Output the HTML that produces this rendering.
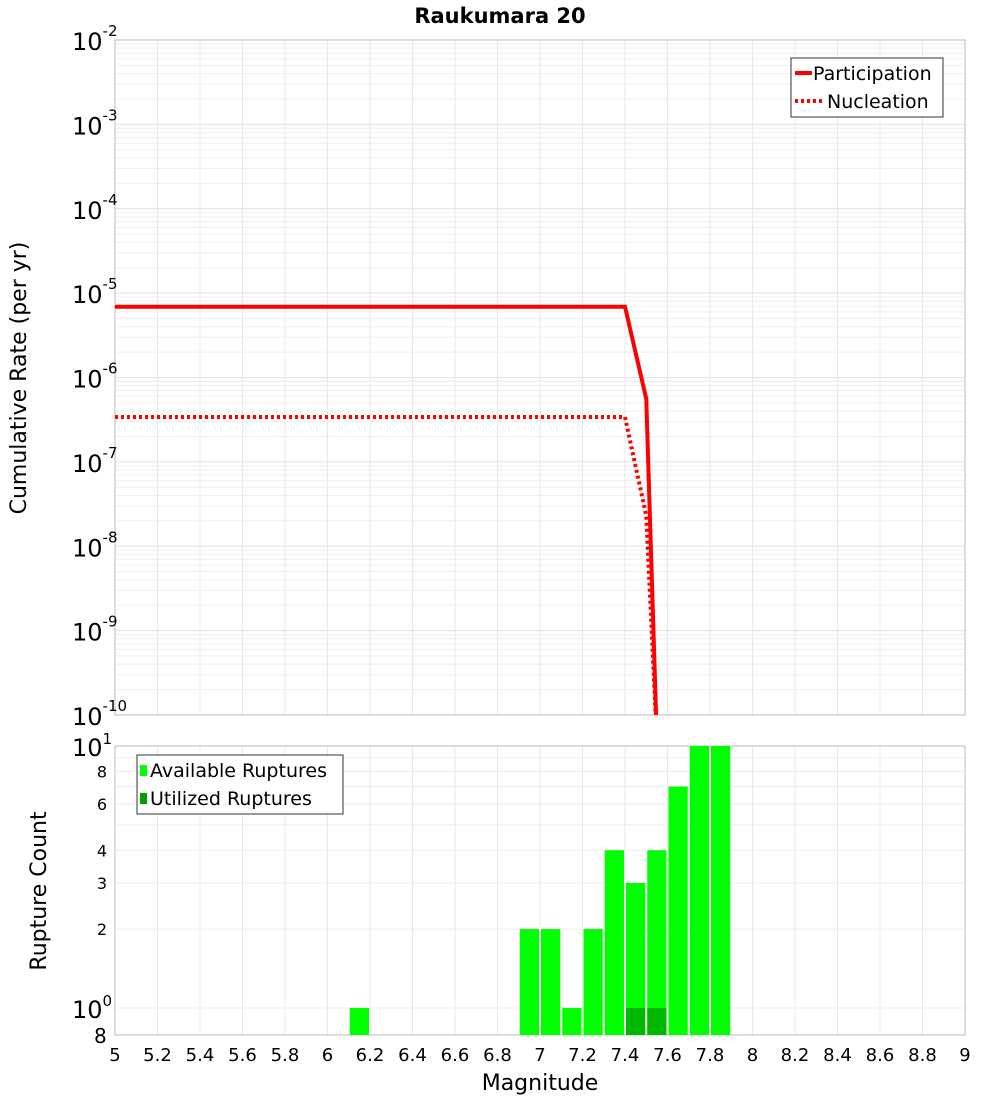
<!DOCTYPE html>
<html><head><meta charset="utf-8"><style>body{margin:0;background:#fff}svg{font-family:"DejaVu Sans","Liberation Sans",sans-serif}</style></head>
<body>
<svg id="c" width="1000" height="1100"></svg>
<script>
const partMags=[5,7.4,7.5,7.55];
const partRates=[6.9e-6,6.9e-6,5.6e-7,5e-11];
const nuclMags=[5,7.4,7.5,7.55];
const nuclRates=[3.4e-7,3.4e-7,2.3e-8,5e-11];
const binCenters=[6.15,6.95,7.05,7.15,7.25,7.35,7.45,7.55,7.65,7.75,7.85];
const available=[1,2,2,1,2,4,3,4,7,10,10];
const utilized=[0,0,0,0,0,0,0,1,1,0,0,0].slice(0,11);
const utilizedFix=[0,0,0,0,0,0,1,1,0,0,0];
const xTicks=[5,5.2,5.4,5.6,5.8,6,6.2,6.4,6.6,6.8,7,7.2,7.4,7.6,7.8,8,8.2,8.4,8.6,8.8,9];
const topExps=[-2,-3,-4,-5,-6,-7,-8,-9,-10];
const botTicks=[8,6,4,3,2];
const NS="http://www.w3.org/2000/svg",svg=document.getElementById('c');
function el(t,a,p){const e=document.createElementNS(NS,t);for(const k in a)e.setAttribute(k,a[k]);(p||svg).appendChild(e);return e;}
const X0=115,X1=965;
const sx=m=>X0+(m-5)/4*(X1-X0);
const T0=40,T1=715;
const sy=v=>T0+(-2-Math.log10(v))*(T1-T0)/8;
const B0=746,B1=1035,BD=262;
const by=v=>1008-Math.log10(v)*BD;
// top grid
let g=el('g',{});  
for(let d=-10;d<-2;d++)for(let k=1;k<10;k++){const y=sy(k*Math.pow(10,d));el('line',{x1:X0,x2:X1,y1:y,y2:y,stroke:k==1?'#e0e0e0':'#efefef','stroke-width':1},g);}
xTicks.forEach(m=>{el('line',{x1:sx(m),x2:sx(m),y1:T0,y2:T1,stroke:'#e8e8e8'},g);el('line',{x1:sx(m),x2:sx(m),y1:B0,y2:B1,stroke:'#e8e8e8'},g);});
for(let v of [1,2,3,4,5,6,7,8,9,10]){const y=by(v);if(y>=B0&&y<=B1)el('line',{x1:X0,x2:X1,y1:y,y2:y,stroke:'#ececec'},g);}
el('rect',{x:X0,y:T0,width:X1-X0,height:T1-T0,fill:'none',stroke:'#bbb'});
el('rect',{x:X0,y:B0,width:X1-X0,height:B1-B0,fill:'none',stroke:'#bbb'});
// title
let t=el('text',{x:500,y:23,'text-anchor':'middle','font-size':21,'font-weight':'bold'});t.textContent='Raukumara 20';
// top y ticks
topExps.forEach(e=>{const y=sy(Math.pow(10,e));const tx=el('text',{x:72,y:y+10,'font-size':24});tx.innerHTML='10<tspan dy="-14" font-size="15">'+e+'</tspan>';});
t=el('text',{x:26,y:378,'font-size':22,'text-anchor':'middle',transform:'rotate(-90 26 378)'});t.textContent='Cumulative Rate (per yr)';
// lines
const clip=el('clipPath',{id:'cp'});el('rect',{x:X0,y:T0,width:X1-X0,height:T1-T0},clip);
function line(ms,rs,dash,name){const p=el('polyline',{points:ms.map((m,i)=>sx(m)+','+sy(rs[i])).join(' '),fill:'none',stroke:'#f00','stroke-width':4,'clip-path':'url(#cp)'});if(dash)p.setAttribute('stroke-dasharray','3,3');}
line(nuclMags,nuclRates,true,'nucleation-line');
line(partMags,partRates,false,'participation-line');
// top legend
let lg=el('g',{});
el('rect',{x:791,y:58,width:152,height:59,fill:'#fff',stroke:'#333'},lg);
el('line',{x1:795,x2:812,y1:73,y2:73,stroke:'#f00','stroke-width':4},lg);
el('line',{x1:795,x2:822,y1:101,y2:101,stroke:'#f00','stroke-width':4,'stroke-dasharray':'3,3'},lg);
t=el('text',{x:813,y:80,'font-size':19},lg);t.textContent='Participation';
t=el('text',{x:827,y:108,'font-size':19},lg);t.textContent='Nucleation';
// bars
binCenters.forEach((c,i)=>{const x=sx(c-0.05)+1,w=sx(c+0.05)-sx(c-0.05)-2;const y=Math.max(B0,by(available[i]));
const r=el('rect',{x:x,y:y,width:w,height:B1-y,fill:'#00ff00'});
if(utilizedFix[i]>0){const yu=by(utilizedFix[i]);const u=el('rect',{x:x,y:yu,width:w,height:B1-yu,fill:'#00b800'});}});
// bottom ticks
t=el('text',{x:72,y:756,'font-size':24});t.innerHTML='10<tspan dy="-12" font-size="15">1</tspan>';
t=el('text',{x:72,y:1018,'font-size':24});t.innerHTML='10<tspan dy="-12" font-size="15">0</tspan>';
t=el('text',{x:94,y:1043,'font-size':20});t.textContent='8';
botTicks.forEach(v=>{const tx=el('text',{x:107,y:by(v)+6,'font-size':16,'text-anchor':'end'});tx.textContent=v;});
t=el('text',{x:46,y:891,'font-size':22,'text-anchor':'middle',transform:'rotate(-90 46 891)'});t.textContent='Rupture Count';
xTicks.forEach(m=>{const tx=el('text',{x:sx(m),y:1061,'font-size':18,'text-anchor':'middle'});tx.textContent=String(m);});
t=el('text',{x:540,y:1090,'font-size':22,'text-anchor':'middle'});t.textContent='Magnitude';
// bottom legend
lg=el('g',{});
el('rect',{x:137,y:755,width:206,height:59,fill:'#fff',stroke:'#333'},lg);
el('rect',{x:140,y:765,width:7,height:11,fill:'#00ff00'},lg);
el('rect',{x:140,y:793,width:7,height:11,fill:'#00a000'},lg);
t=el('text',{x:150,y:777,'font-size':19},lg);t.textContent='Available Ruptures';
t=el('text',{x:150,y:805,'font-size':19},lg);t.textContent='Utilized Ruptures';
</script>
</body></html>
